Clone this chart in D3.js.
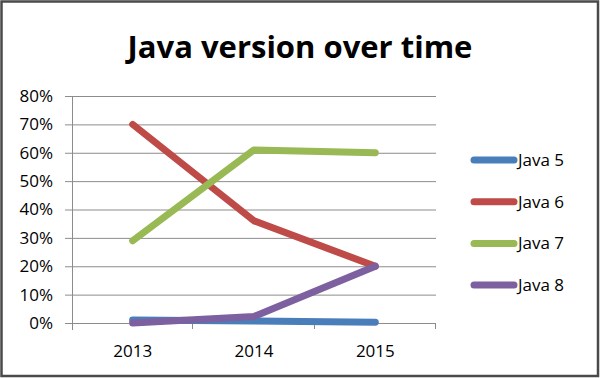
<!DOCTYPE html>
<html>
<head>
<meta charset="utf-8">
<script src="https://cdn.jsdelivr.net/npm/d3@7"></script>
<style>
  body { margin:0; background:#fff; }
  svg text { font-family: "Open Sans", "DejaVu Sans", sans-serif; fill:#000; }
  .heading { font-weight:700; font-size:31px; }
  .tick text { font-size:17px; }
  .legend text { font-size:17px; }
</style>
</head>
<body>
<svg width="600" height="378"></svg>
<script>
const years = ['2013', '2014', '2015'];
const seriesNames = ['Java 5', 'Java 6', 'Java 7', 'Java 8'];
const java5 = [1.1, 0.7, 0.3];
const java6 = [70, 36, 20];
const java7 = [29, 61, 60];
const java8 = [0, 2.3, 20];
const yTicks = [0, 10, 20, 30, 40, 50, 60, 70, 80];
const colors = ['#4a7ebb', '#be4b48', '#98b954', '#7d60a0'];

const allSeries = [java5, java6, java7, java8];

function Start(){
    const svg = d3.select('svg');
    const width = +svg.attr('width');
    const height = +svg.attr('height');

    // chart border
    svg.append('rect')
        .attr('x', 1.5).attr('y', 1.5)
        .attr('width', width - 3.5).attr('height', height - 3.5)
        .attr('fill', '#fff')
        .attr('stroke', '#4a4a4a')
        .attr('stroke-width', 2.5);

    const margin = { top:96, right:164, bottom:55, left:72 };
    const innerWidth = width - margin.left - margin.right;
    const innerHeight = height - margin.top - margin.bottom;

    const xscale = d3.scaleBand()
        .domain(years)
        .range([0, innerWidth]);

    const yscale = d3.scaleLinear()
        .domain([0, 80])
        .range([innerHeight, 0]);

    const g = svg.append('g')
        .attr('transform', `translate(${margin.left},${margin.top})`);

    // gridlines
    g.append('g').selectAll('line').data(yTicks.slice(1))
        .enter().append('line')
            .attr('x1', 0).attr('x2', innerWidth)
            .attr('y1', d => yscale(d) + 0.5).attr('y2', d => yscale(d) + 0.5)
            .attr('stroke', '#8c8c8c');

    const yAxis = d3.axisLeft(yscale)
        .tickValues(yTicks)
        .tickFormat(d => d + '%')
        .tickSize(7)
        .tickPadding(12);

    const yAxisG = g.append('g').call(yAxis);
    yAxisG.select('.domain').attr('stroke', '#8c8c8c').attr('d', `M0.5,0V${innerHeight + 7}`);
    yAxisG.selectAll('.tick line').attr('stroke', '#8c8c8c');

    // x axis, ticks sit on the category boundaries
    const xAxisG = g.append('g')
        .attr('transform', `translate(0,${innerHeight})`)
        .call(d3.axisBottom(xscale).tickSize(0).tickPadding(22));
    xAxisG.select('.domain').attr('stroke', '#8c8c8c').attr('d', `M0,0.5H${innerWidth}`);
    xAxisG.selectAll('.boundary').data(years)
        .enter().append('line')
            .attr('x1', d => Math.round(xscale(d) + xscale.bandwidth()) - 0.5)
            .attr('x2', d => Math.round(xscale(d) + xscale.bandwidth()) - 0.5)
            .attr('y1', 0).attr('y2', 6)
            .attr('stroke', '#8c8c8c');

    svg.append('text')
        .attr('class', 'heading')
        .attr('x', 300)
        .attr('y', 58)
        .attr('text-anchor', 'middle')
        .text('Java version over time');

    const line = d3.line()
        .x((d, i) => xscale(years[i]) + xscale.bandwidth() / 2)
        .y(d => yscale(d));

    g.selectAll('.series').data(allSeries)
        .enter().append('path')
            .attr('class', 'series')
            .attr('d', line)
            .attr('fill', 'none')
            .attr('stroke', (d, i) => colors[i])
            .attr('stroke-width', 7)
            .attr('stroke-linecap', 'round')
            .attr('stroke-linejoin', 'round');

    // legend
    const legend = svg.append('g').attr('class', 'legend');
    const item = legend.selectAll('g').data(seriesNames)
        .enter().append('g')
            .attr('transform', (d, i) => `translate(474,${160 + i * 41.7})`);
    item.append('line')
        .attr('x1', 0).attr('x2', 40)
        .attr('stroke', (d, i) => colors[i])
        .attr('stroke-width', 7)
        .attr('stroke-linecap', 'round');
    item.append('text')
        .attr('x', 44).attr('y', 6)
        .text(d => d);
}
Start();
</script>
</body>
</html>
